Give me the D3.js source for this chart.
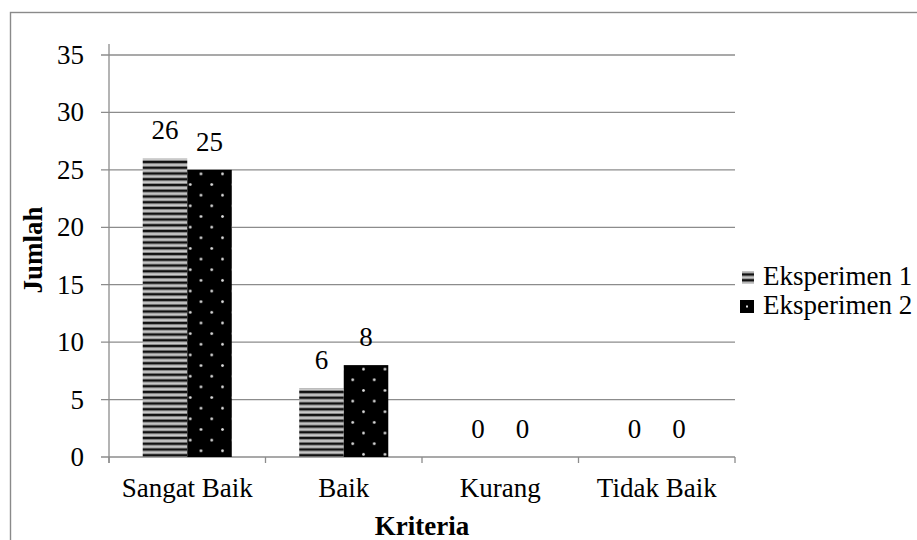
<!DOCTYPE html>
<html>
<head>
<meta charset="utf-8">
<script src="https://cdn.jsdelivr.net/npm/d3@7"></script>
<style>
  html, body { margin: 0; padding: 0; background: #fff; }
  svg { display: block; }
  text { font-family: "Liberation Serif", "Times New Roman", serif; fill: #000; }
</style>
</head>
<body>
<svg id="chart" width="917" height="540"></svg>
<script>
// Chart data
const categories = ["Sangat Baik", "Baik", "Kurang", "Tidak Baik"];
const seriesNames = ["Eksperimen 1", "Eksperimen 2"];
const eksperimen1 = [26, 6, 0, 0];
const eksperimen2 = [25, 8, 0, 0];
const yTicks = [0, 5, 10, 15, 20, 25, 30, 35];

const svg = d3.select("#chart");
const W = 917, H = 540;
const margin = { left: 109, right: 182, top: 55, bottom: 83 };
const grid = "#8c8c8c";

// Outer frame
svg.append("rect")
  .attr("x", 10.5).attr("y", 12.5)
  .attr("width", W + 20).attr("height", H + 20)
  .attr("fill", "none").attr("stroke", "#8a8a8a").attr("stroke-width", 1.4);

const x0 = d3.scaleBand().domain(categories)
  .range([margin.left, W - margin.right])
  .paddingInner(0.431).paddingOuter(0.2155);
const x1 = d3.scaleBand().domain(seriesNames).range([0, x0.bandwidth()]);
const y = d3.scaleLinear().domain([0, 35]).range([H - margin.bottom, margin.top]);

const rows = categories.map((c, i) => ({
  cat: c,
  vals: [
    { s: seriesNames[0], v: eksperimen1[i], k: 0 },
    { s: seriesNames[1], v: eksperimen2[i], k: 1 }
  ]
}));

// Patterns: horizontal stripes and staggered dots on black
const defs = svg.append("defs");
const stripe = defs.append("pattern").attr("id", "stripes")
  .attr("patternUnits", "userSpaceOnUse").attr("width", 8).attr("height", 5.75);
stripe.append("rect").attr("width", 8).attr("height", 5.75).attr("fill", "#f2f2f2");
stripe.append("rect").attr("y", 0).attr("width", 8).attr("height", 2.4).attr("fill", "#111");
stripe.append("rect").attr("y", 2.4).attr("width", 8).attr("height", 1).attr("fill", "#777");
stripe.append("rect").attr("y", 3.4).attr("width", 8).attr("height", 1.3).attr("fill", "#cfcfcf");
stripe.append("rect").attr("y", 4.7).attr("width", 8).attr("height", 1.05).attr("fill", "#8a8a8a");

function dotPattern(id, px, py) {
  const p = defs.append("pattern").attr("id", id)
    .attr("patternUnits", "userSpaceOnUse")
    .attr("x", px - 5.4).attr("y", py - 5.3)
    .attr("width", 21.5).attr("height", 21.3);
  p.append("rect").attr("width", 21.5).attr("height", 21.3).attr("fill", "#000");
  p.append("circle").attr("cx", 5.4).attr("cy", 5.3).attr("r", 1.45).attr("fill", "#dcdcdc");
  p.append("circle").attr("cx", 16.15).attr("cy", 15.95).attr("r", 1.45).attr("fill", "#dcdcdc");
}

// Gridlines
svg.append("g").selectAll("line").data(yTicks).join("line")
  .attr("x1", margin.left - 8).attr("x2", W - margin.right)
  .attr("y1", d => y(d)).attr("y2", d => y(d))
  .attr("stroke", grid).attr("stroke-width", 1.3);

// Y axis line
svg.append("line")
  .attr("x1", margin.left).attr("x2", margin.left)
  .attr("y1", y(35) - 11).attr("y2", y(0) + 6)
  .attr("stroke", grid).attr("stroke-width", 1.3);

// X category boundary ticks
const bounds = categories.map(c => x0(c) - x0.step() * x0.paddingInner() / 2);
bounds.push(W - margin.right);
svg.append("g").selectAll("line").data(bounds).join("line")
  .attr("x1", d => d).attr("x2", d => d)
  .attr("y1", y(0)).attr("y2", y(0) + 6)
  .attr("stroke", grid).attr("stroke-width", 1.3);

// Y tick labels
svg.append("g").selectAll("text").data(yTicks).join("text")
  .attr("x", 84).attr("y", d => y(d) + 9)
  .attr("text-anchor", "end").attr("font-size", 27)
  .text(d => d);

// Bars
const groups = svg.append("g").selectAll("g").data(rows).join("g")
  .attr("transform", d => `translate(${x0(d.cat)},0)`);

groups.each(function (d) {
  const gx = x0(d.cat);
  d.vals.forEach(b => {
    if (b.k === 1) dotPattern(`dots-${categories.indexOf(d.cat)}`, gx + x1(b.s), y(b.v) + 4);
  });
});

groups.selectAll("rect").data(d => d.vals.map(v => ({ ...v, cat: d.cat }))).join("rect")
  .attr("x", b => x1(b.s))
  .attr("y", b => y(b.v))
  .attr("width", x1.bandwidth())
  .attr("height", b => y(0) - y(b.v))
  .attr("fill", b => b.k === 0 ? "url(#stripes)" : `url(#dots-${categories.indexOf(b.cat)})`);

// Value labels
groups.selectAll("text").data(d => d.vals).join("text")
  .attr("x", b => x1(b.s) + x1.bandwidth() / 2)
  .attr("y", b => y(b.v) - 19)
  .attr("text-anchor", "middle").attr("font-size", 27)
  .text(b => b.v);

// Category labels
svg.append("g").selectAll("text").data(categories).join("text")
  .attr("x", c => x0(c) + x0.bandwidth() / 2)
  .attr("y", 497)
  .attr("text-anchor", "middle").attr("font-size", 27)
  .text(c => c);

// Axis titles
svg.append("text")
  .attr("x", (margin.left + W - margin.right) / 2).attr("y", 535)
  .attr("text-anchor", "middle").attr("font-size", 27).attr("font-weight", "bold")
  .text("Kriteria");
svg.append("text")
  .attr("transform", "translate(42,250) rotate(-90)")
  .attr("text-anchor", "middle").attr("font-size", 27).attr("font-weight", "bold")
  .text("Jumlah");

// Legend
const legend = svg.append("g").selectAll("g").data(seriesNames).join("g")
  .attr("transform", (d, i) => `translate(740,${285 + i * 29})`);
legend.append("rect")
  .attr("x", (d, i) => i === 0 ? 2 : 0).attr("y", -14)
  .attr("width", (d, i) => i === 0 ? 12 : 14).attr("height", 13)
  .attr("fill", (d, i) => i === 0 ? "url(#stripes)" : "#000");
legend.filter((d, i) => i === 1).append("rect")
  .attr("x", 6).attr("y", -8.5).attr("width", 2).attr("height", 2).attr("fill", "#ddd");
legend.append("text")
  .attr("x", 23).attr("y", 0)
  .attr("font-size", 27)
  .text(d => d);
</script>
</body>
</html>
